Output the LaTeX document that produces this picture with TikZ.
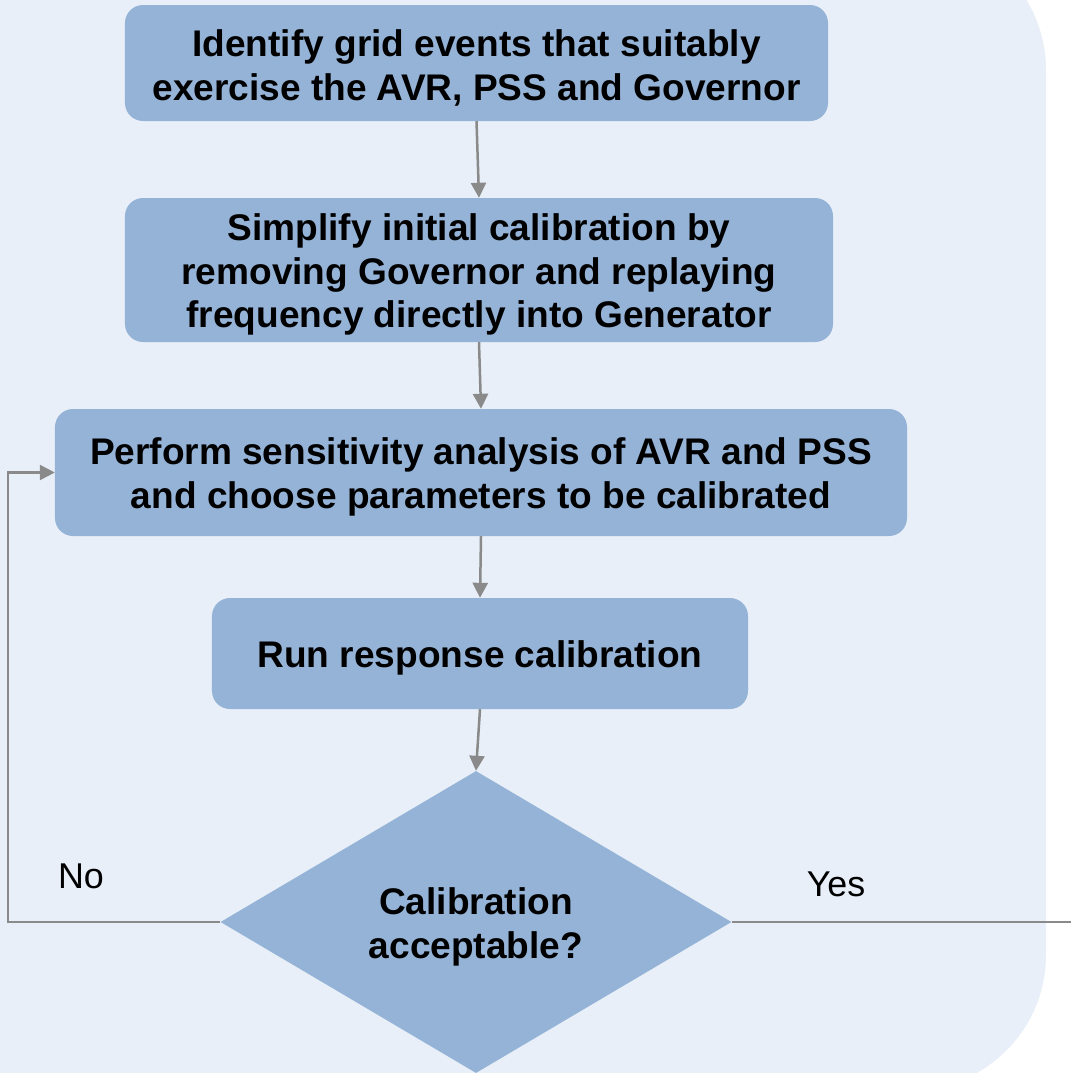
\documentclass[tikz,border=0pt]{standalone}
\usepackage{fontspec}
\setmainfont{Liberation Sans}
\usetikzlibrary{shapes.geometric,arrows.meta}
\definecolor{bgc}{HTML}{E8EFF8}
\definecolor{boxc}{HTML}{95B3D7}
\definecolor{linec}{HTML}{8A8A8A}
\newcommand\tstrut{\rule{0pt}{36bp}}
\tikzset{
  stepbox/.style={draw=none, fill=boxc, rounded corners=18bp, align=center,
    font=\fontsize{37.2}{44}\selectfont\bfseries, inner sep=0pt},
  decbox/.style={diamond, draw=none, fill=boxc, align=center, inner sep=0pt,
    font=\fontsize{37.2}{44}\selectfont\bfseries},
  conn/.style={draw=linec, line width=2.5bp, -{Triangle[width=15bp,length=15bp]}},
  plainconn/.style={draw=linec, line width=2.5bp},
  lbl/.style={font=\fontsize{36}{40}\selectfont, inner sep=0pt}
}
\begin{document}
\begin{tikzpicture}[x=1bp,y=-1bp]
\useasboundingbox (0,0) rectangle (1071,1073);
\begin{scope}
\clip (0,0) rectangle (1071,1073);
\fill[bgc, rounded corners=135bp] (-200,-65) rectangle (1046,1090);
\end{scope}
\node[stepbox, minimum width=703bp, minimum height=116bp] (b1) at (476.5,63)
  {\tstrut Identify grid events that suitably\\exercise the AVR, PSS and Governor};
\node[stepbox, minimum width=708bp, minimum height=144bp] (b2) at (479,270)
  {\tstrut Simplify initial calibration by\\removing Governor and replaying\\frequency directly into Generator};
\node[stepbox, minimum width=852bp, minimum height=127bp] (b3) at (481,472.5)
  {\tstrut Perform sensitivity analysis of AVR and PSS\\and choose parameters to be calibrated};
\node[stepbox, minimum width=536bp, minimum height=111bp] (b4) at (480,653.5)
  {\tstrut Run response calibration};
\node[decbox, minimum width=511bp, minimum height=302bp] (d) at (476,922)
  {\tstrut Calibration\\acceptable?};
\coordinate (lc) at (8,922);
\coordinate (re) at (1071,922);
\draw[conn] (b1.south) -- (b2.north);
\draw[conn] (b2.south) -- (b3.north);
\draw[conn] (b3.south) -- (b4.north);
\draw[conn] (b4.south) -- (d.north);
\draw[conn] (d.west) -- (lc) |- (b3.west);
\draw[plainconn] (d.east) -- (re);
\node[lbl] (no) at (81,876) {No};
\node[lbl] (yes) at (836,884) {Yes};
\end{tikzpicture}
\end{document}
